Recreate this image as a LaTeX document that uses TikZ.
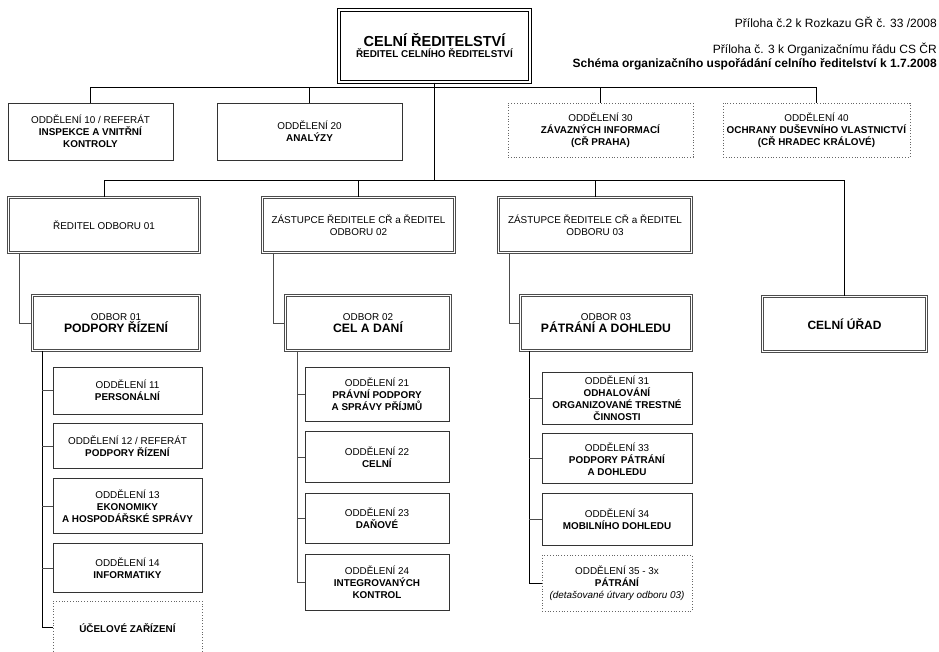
\documentclass[tikz,border=0pt]{standalone}
\usepackage{fontspec}
\setmainfont{Liberation Sans}
\usetikzlibrary{positioning}

\begin{document}
\begin{tikzpicture}[
    x=1pt, y=-1pt,
    font=\fontsize{9.9}{12}\selectfont,
    box/.style={draw=black!80, line width=0.8pt, align=center, inner sep=2pt},
    dbox/.style={box, draw=black!70, double=white, double distance=1.3pt, line width=0.7pt},
    pbox/.style={draw=black!60, dotted, line width=0.8pt, align=center, inner sep=2pt},
    link/.style={draw=black, line width=0.9pt},
    sublink/.style={draw=black!70, line width=0.8pt},
    note/.style={anchor=east, inner sep=0pt}
]
\useasboundingbox (0,0) rectangle (939,651);

\node[note, font=\fontsize{12}{14}\selectfont] (ann1) at (937,22) {Příloha č.2 k Rozkazu GŘ č. 33 /2008};
\node[note, font=\fontsize{12}{14}\selectfont] (ann2) at (937,49) {Příloha č. 3 k Organizačnímu řádu CS ČR};
\node[note, font=\fontsize{12}{14}\selectfont\bfseries] (ann3) at (937,64) {Schéma organizačního uspořádání celního ředitelství k 1.7.2008};

\node[box, draw=black, double=white, double distance=2pt, line width=1.1pt, minimum width=191pt, minimum height=72pt] (top) at (434.5,46)
  {{\fontsize{14.5}{17}\selectfont\bfseries CELNÍ ŘEDITELSTVÍ}\\[-1pt]\textbf{ŘEDITEL CELNÍHO ŘEDITELSTVÍ}};

\node[box, minimum width=165pt, minimum height=57pt] (o10) at (90.5,131.5)
  {ODDĚLENÍ 10 / REFERÁT\\\textbf{INSPEKCE A VNITŘNÍ}\\\textbf{KONTROLY}};
\node[box, minimum width=185pt, minimum height=57pt] (o20) at (309.5,131.5)
  {ODDĚLENÍ 20\\\textbf{ANALÝZY}};
\node[pbox, minimum width=185pt, minimum height=54pt] (o30) at (600.5,130)
  {ODDĚLENÍ 30\\\textbf{ZÁVAZNÝCH INFORMACÍ}\\\textbf{(CŘ PRAHA)}};
\node[pbox, minimum width=187pt, minimum height=54pt] (o40) at (816.5,130)
  {ODDĚLENÍ 40\\\textbf{OCHRANY DUŠEVNÍHO VLASTNICTVÍ}\\\textbf{(CŘ HRADEC KRÁLOVÉ)}};

\node[dbox, minimum width=191pt, minimum height=55pt] (r01) at (104,225) {ŘEDITEL ODBORU 01};
\node[dbox, minimum width=192pt, minimum height=55pt] (r02) at (358.5,225) {ZÁSTUPCE ŘEDITELE CŘ a ŘEDITEL\\ODBORU 02};
\node[dbox, minimum width=193pt, minimum height=55pt] (r03) at (595,225) {ZÁSTUPCE ŘEDITELE CŘ a ŘEDITEL\\ODBORU 03};
\node[dbox, minimum width=164pt, minimum height=55pt] (urad) at (844.5,324)
  {\fontsize{12}{14}\selectfont\bfseries CELNÍ ÚŘAD};

\node[dbox, minimum width=167pt, minimum height=55pt] (od01) at (116,323)
  {ODBOR 01\\{\fontsize{12.2}{14}\selectfont\bfseries PODPORY ŘÍZENÍ}};
\node[dbox, minimum width=165pt, minimum height=55pt] (od02) at (368,323)
  {ODBOR 02\\{\fontsize{12.2}{14}\selectfont\bfseries CEL A DANÍ}};
\node[dbox, minimum width=171pt, minimum height=55pt] (od03) at (606,323)
  {ODBOR 03\\{\fontsize{12.2}{14}\selectfont\bfseries PÁTRÁNÍ A DOHLEDU}};

\node[box, minimum width=149pt, minimum height=47pt] (d11) at (127.5,390.5) {ODDĚLENÍ 11\\\textbf{PERSONÁLNÍ}};
\node[box, minimum width=149pt, minimum height=45pt, below=9pt of d11] (d12) {ODDĚLENÍ 12 / REFERÁT\\\textbf{PODPORY ŘÍZENÍ}};
\node[box, minimum width=149pt, minimum height=55pt, below=9pt of d12] (d13) {ODDĚLENÍ 13\\\textbf{EKONOMIKY}\\\textbf{A HOSPODÁŘSKÉ SPRÁVY}};
\node[box, minimum width=149pt, minimum height=49pt, below=9pt of d13] (d14) {ODDĚLENÍ 14\\\textbf{INFORMATIKY}};
\node[pbox, minimum width=149pt, minimum height=53pt, below=8pt of d14] (d15) {\textbf{ÚČELOVÉ ZAŘÍZENÍ}};

\node[box, minimum width=144pt, minimum height=54pt] (d21) at (377,394) {ODDĚLENÍ 21\\\textbf{PRÁVNÍ PODPORY}\\\textbf{A SPRÁVY PŘÍJMŮ}};
\node[box, minimum width=144pt, minimum height=51pt, below=10pt of d21] (d22) {ODDĚLENÍ 22\\\textbf{CELNÍ}};
\node[box, minimum width=144pt, minimum height=50pt, below=10pt of d22] (d23) {ODDĚLENÍ 23\\\textbf{DAŇOVÉ}};
\node[box, minimum width=144pt, minimum height=56pt, below=10pt of d23] (d24) {ODDĚLENÍ 24\\\textbf{INTEGROVANÝCH}\\\textbf{KONTROL}};

\node[box, minimum width=150pt, minimum height=52pt] (d31) at (617,398) {ODDĚLENÍ 31\\\textbf{ODHALOVÁNÍ}\\\textbf{ORGANIZOVANÉ TRESTNÉ}\\\textbf{ČINNOSTI}};
\node[box, minimum width=150pt, minimum height=50pt, below=9pt of d31] (d33) {ODDĚLENÍ 33\\\textbf{PODPORY PÁTRÁNÍ}\\\textbf{A DOHLEDU}};
\node[box, minimum width=150pt, minimum height=52pt, below=9pt of d33] (d34) {ODDĚLENÍ 34\\\textbf{MOBILNÍHO DOHLEDU}};
\node[pbox, minimum width=150pt, minimum height=56pt, below=9pt of d34] (d35) {ODDĚLENÍ 35 - 3x\\\textbf{PÁTRÁNÍ}\\\textit{(detašované útvary odboru 03)}};

\coordinate (bus1) at (0,87);
\coordinate (bus2) at (0,180);
\draw[link] (top.south) -- (top.south |- bus2);
\draw[link] (o10.north) |- (o40.north |- bus1) -- (o40.north);
\foreach \n in {o20,o30}
  \draw[link] (\n.north) -- (\n.north |- bus1);
\draw[link] (r01.north) |- (urad.north |- bus2) -- (urad.north);
\foreach \n in {r02,r03}
  \draw[link] (\n.north) -- (\n.north |- bus2);

\foreach \a/\b in {r01/od01, r02/od02, r03/od03}
  \draw[sublink] ([xshift=11pt]\a.south west) |- (\b.west);

\coordinate (s1) at ([xshift=10pt]od01.south west);
\coordinate (s2) at ([xshift=12pt]od02.south west);
\coordinate (s3) at ([xshift=9pt]od03.south west);
\draw[link, line width=1.2pt] (s1) |- (d15.west);
\foreach \n in {d11,d12,d13,d14}
  \draw[sublink] (s1 |- \n.west) -- (\n.west);
\draw[sublink] (s2) |- (d24.west);
\foreach \n in {d21,d22,d23}
  \draw[sublink] (s2 |- \n.west) -- (\n.west);
\draw[link, line width=1.2pt] (s3) |- (d35.west);
\foreach \n in {d31,d33,d34}
  \draw[sublink] (s3 |- \n.west) -- (\n.west);
\end{tikzpicture}
\end{document}
